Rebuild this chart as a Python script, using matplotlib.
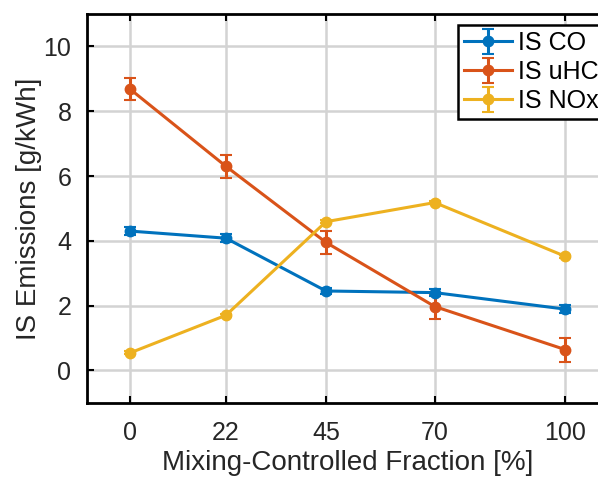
import numpy as np
import matplotlib.pyplot as plt

plt.rcParams['font.family'] = ['Liberation Sans', 'DejaVu Sans']

# mixing-controlled fraction [%]
frac = [0, 22, 45, 70, 100]

co = [4.30, 4.08, 2.45, 2.40, 1.89]
co_err = [0.12, 0.12, 0.08, 0.12, 0.12]

uhc = [8.68, 6.30, 3.95, 1.97, 0.64]
uhc_err = [0.34, 0.36, 0.36, 0.38, 0.37]

nox = [0.54, 1.70, 4.59, 5.18, 3.52]
nox_err = [0.05, 0.05, 0.05, 0.05, 0.05]

labels = ['IS CO', 'IS uHC', 'IS NOx']
colors = ['#0072BD', '#D95319', '#EDB120']

fig = plt.figure(figsize=(5.98, 4.78), dpi=100)
ax = fig.add_axes([0.145, 0.1575, 0.873, 0.813])

for y, e, lab, c in zip([co, uhc, nox], [co_err, uhc_err, nox_err], labels, colors):
    ax.errorbar(frac, y, yerr=e, color=c, lw=2.2, marker='o', ms=7,
                mfc=c, mec=c, mew=1.5, capsize=4, capthick=2.2,
                elinewidth=2.2, label=lab)

ax.set_xlim(-10, 110)
ax.set_ylim(-1, 11)
ax.set_xticks(frac)
ax.set_yticks([0, 2, 4, 6, 8, 10])
ax.grid(True, color='#d3d3d3', lw=1.8)
ax.set_axisbelow(True)

ax.tick_params(direction='in', length=5, width=1.5, labelsize=18,
               top=True, right=True, colors='k', labelcolor='#262626')
ax.tick_params(axis='x', pad=13)
ax.tick_params(axis='y', pad=11)
for s in ax.spines.values():
    s.set_linewidth(2)
    s.set_color('k')

ax.set_xlabel('Mixing-Controlled Fraction [%]', fontsize=20, color='#262626', labelpad=4)
ax.set_ylabel('IS Emissions [g/kWh]', fontsize=20, color='#262626', labelpad=1)

leg = ax.legend(loc='upper left', bbox_to_anchor=(0.711, 0.972), fontsize=18,
                frameon=True, fancybox=False, edgecolor='k', framealpha=1,
                borderpad=0.25, labelspacing=0.2, handlelength=1.9,
                handletextpad=0.25, borderaxespad=0)
leg.get_frame().set_linewidth(1.8)

fig.savefig('out.png', dpi=100)
